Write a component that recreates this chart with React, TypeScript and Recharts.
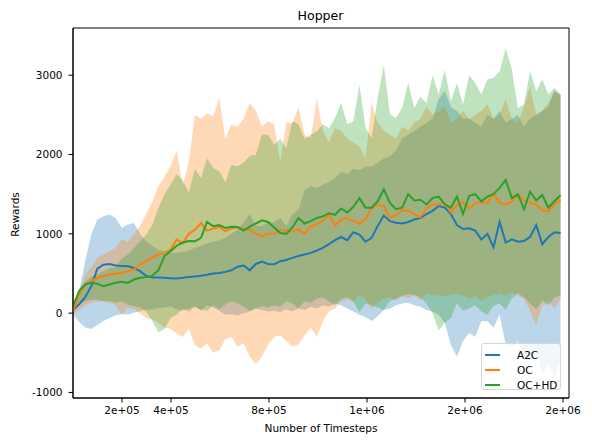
import React from "react";
import { ComposedChart, Area, Line, XAxis, YAxis, ReferenceArea } from "recharts";

// evaluation logged every 24875 steps
const STEP = 24875;
const timesteps = Array.from({ length: 81 }, (_, i) => i * STEP);

const a2cMean = [
  40, 110, 200, 340, 560, 610, 620, 600, 595, 590, 570, 530, 470, 450, 450, 445, 440,
  437, 445, 455, 462, 470, 485, 500, 505, 520, 540, 585, 600, 540, 620, 650, 620,
  615, 655, 670, 697, 720, 739, 760, 790, 823, 870, 920, 960, 920, 1020, 990, 900,
  950, 1100, 1230, 1160, 1140, 1130, 1150, 1180, 1200, 1250, 1290, 1350, 1330, 1250, 1110, 1060,
  1070, 1040, 930, 1000, 830, 1150, 890, 930, 900, 910, 960, 1110, 870, 960, 1020, 1010,
];
const a2cLow = [
  -17, -110, -180, -200, -150, -100, -60, -30, -10, -17, 4, 25, 46, 46, 67, 67, 88,
  50, 30, 60, 80, 40, 100, 70, 30, -20, -10, -30, 0, 20, 60, 40, 20,
  30, 10, 50, 20, 60, 40, 80, 60, 100, 80, 120, 100, 60, 20, -20, -50,
  -100, -40, 40, 60, 100, 120, 130, 100, 80, 40, 20, -20, -120, -400, -550, -350,
  -250, -300, -100, -101, -185, -17, -395, -437, -353, -563, -605, -437, -773, -647, -815, -605,
];
const a2cHigh = [
  46, 277, 655, 991, 1180, 1222, 1243, 1201, 1075, 1117, 1138, 1000, 900, 850, 800, 780, 760,
  760, 770, 790, 820, 850, 880, 900, 920, 950, 1000, 1050, 1150, 1250, 1100, 1100, 1150,
  1150, 1200, 1100, 1250, 1300, 1550, 1600, 1580, 1620, 1650, 1700, 1780, 1750, 1820, 1800, 1850,
  1850, 1900, 1950, 1980, 2050, 2200, 2250, 2300, 2350, 2400, 2450, 2700, 2800, 2600, 2550, 2450,
  2450, 2400, 2350, 2500, 2450, 2550, 2400, 2450, 2500, 2350, 2450, 2500, 2550, 2600, 2800, 2750,
];

const ocMean = [
  25, 235, 361, 403, 445, 466, 487, 496, 508, 529, 550, 613, 655, 697, 739, 760, 800,
  930, 880, 1000, 1050, 1135, 1040, 1065, 1090, 1030, 1070, 1085, 1060, 1050, 1000, 970, 1000,
  1000, 1050, 1040, 1030, 1055, 1000, 1090, 1120, 1170, 1240, 1100, 1180, 1200, 1160, 1130, 1180,
  1330, 1370, 1350, 1200, 1240, 1300, 1290, 1250, 1210, 1320, 1370, 1370, 1390, 1270, 1360, 1400,
  1320, 1380, 1400, 1390, 1510, 1390, 1370, 1410, 1490, 1420, 1390, 1370, 1300, 1280, 1370, 1430,
];
const ocLow = [
  -10, 40, 100, 130, 150, 150, 130, 100, -20, 70, 50, 0, -60, -80, -120, -180, -200,
  -250, -300, -200, -400, -450, -380, -500, -470, -330, -300, -420, -380, -550, -640, -550, -400,
  -300, -280, -350, -420, -400, -280, -180, -300, -100, 20, 60, 150, 170, 140, 230, 180,
  60, 130, 180, 200, 160, 210, 190, 230, 160, 250, 220, 230, 210, 230, 240, 220,
  180, 220, 150, 200, 230, 250, 210, 260, 220, 180, 30, -150, 100, 150, 60, 180,
];
const ocHigh = [
  25, 260, 480, 580, 700, 740, 780, 820, 930, 900, 990, 1100, 1250, 1400, 1600, 1720, 1850,
  2050, 1600, 1900, 2500, 2450, 2520, 2480, 2720, 2200, 2380, 2350, 2450, 2650, 2550, 2350, 2420,
  2380, 1900, 2400, 2400, 2600, 2250, 2200, 2700, 2300, 2150, 2330, 2300, 2200, 2150, 2100, 1950,
  2650, 2400, 2300, 2250, 2200, 2350, 2300, 2400, 2450, 2600, 2500, 2550, 2600, 2400, 2450, 2550,
  2450, 2500, 2550, 2630, 2450, 2500, 2700, 2450, 2400, 2600, 2850, 2500, 2550, 2650, 2800, 2750,
];

const hdMean = [
  88, 277, 361, 382, 370, 340, 361, 382, 395, 382, 424, 445, 454, 470, 540, 720, 780,
  850, 890, 910, 905, 950, 1150, 1095, 1110, 1075, 1090, 1085, 1040, 1090, 1130, 1170, 1150,
  1080, 1010, 1000, 1080, 1200, 1130, 1160, 1200, 1220, 1260, 1240, 1320, 1270, 1340, 1450, 1330,
  1330, 1410, 1560, 1390, 1310, 1330, 1500, 1420, 1430, 1370, 1450, 1470, 1370, 1330, 1470, 1250,
  1480, 1500, 1410, 1470, 1500, 1580, 1680, 1450, 1500, 1310, 1530, 1420, 1490, 1330, 1410, 1490,
];
const hdLow = [
  20, 110, 150, 170, 170, 150, 150, 130, 150, 110, 90, 70, 20, -100, -240, -200, -60,
  -20, 60, 20, 80, 40, 30, 100, 50, 110, 150, 120, 80, 30, 60, 90, 70,
  100, 80, 150, 120, 60, 150, 130, 180, 200, 150, 100, 180, 200, 150, 10, 120,
  100, 70, 40, 150, 180, 220, 240, 230, 200, 120, 0, -220, -120, -60, 120, 30,
  60, 100, 20, -20, 90, 120, 40, 180, 250, 200, 120, 50, 160, 100, 200, 220,
];
const hdHigh = [
  60, 300, 400, 460, 490, 530, 570, 580, 690, 740, 820, 900, 990, 1110, 1320, 1500, 1620,
  1750, 1680, 1520, 1820, 1700, 1950, 1830, 1790, 1650, 1870, 1850, 1900, 1980, 2000, 2250, 2250,
  2120, 2200, 2080, 2420, 2380, 2200, 2250, 2290, 2380, 2330, 2460, 2650, 2380, 2420, 2880, 2330,
  2209, 2713, 3130, 2503, 2461, 2587, 2900, 2587, 2730, 2650, 3000, 2755, 3070, 2671, 2900, 2629,
  3000, 2900, 2755, 2950, 2965, 3049, 3340, 3080, 2587, 2629, 3050, 2800, 2950, 2755, 2839, 2755,
];

const xTicks = [200000, 400000, 800000, 1200000, 1600000, 2000000];
const yTicks = [-1000, 0, 1000, 2000, 3000];
const X_DOMAIN = [0, 2024500];
const Y_DOMAIN = [-1070, 3595];

const SERIES = [
  { key: "a2c", name: "A2C", color: "#1f77b4" },
  { key: "oc", name: "OC", color: "#ff7f0e" },
  { key: "hd", name: "OC+HD", color: "#2ca02c" },
];

const FONT = "'DejaVu Sans', sans-serif";
const FS = 10.5;

const data = timesteps.map((t, i) => ({
  t,
  a2c: a2cMean[i],
  a2cBand: [a2cLow[i], a2cHigh[i]],
  oc: ocMean[i],
  ocBand: [ocLow[i], ocHigh[i]],
  hd: hdMean[i],
  hdBand: [hdLow[i], hdHigh[i]],
}));

// matplotlib-style "%.0e" labels: 2e+05, 1e+06
const sci = (v: number) => v.toExponential(0).replace(/e([+-])(\d)$/, "e$10$2");

const tickStyle = { fill: "#000", fontSize: FS, fontFamily: FONT };

export default function App() {
  return (
    <div
      style={{
        position: "absolute",
        left: 0,
        top: 0,
        width: 592,
        height: 443,
        background: "#fff",
        fontFamily: FONT,
      }}
    >
      <div
        style={{
          position: "absolute",
          left: 0,
          width: 641,
          top: 8,
          textAlign: "center",
          fontSize: 12.6,
          lineHeight: "15px",
          color: "#000",
        }}
      >
        Hopper
      </div>
      <ComposedChart
        width={592}
        height={443}
        data={data}
        margin={{ top: 28, right: 23, bottom: 0, left: 0 }}
      >
        <XAxis
          dataKey="t"
          type="number"
          domain={X_DOMAIN}
          ticks={xTicks}
          tickFormatter={sci}
          allowDataOverflow
          height={45}
          tick={tickStyle}
          tickSize={4.5}
          tickMargin={4.5}
          tickLine={{ stroke: "#000" }}
          axisLine={{ stroke: "#000" }}
          label={{
            content: () => (
              <text x={321} y={431.5} textAnchor="middle" fontSize={FS} fontFamily={FONT} fill="#000">
                Number of Timesteps
              </text>
            ),
          }}
        />
        <YAxis
          type="number"
          domain={Y_DOMAIN}
          ticks={yTicks}
          allowDataOverflow
          width={73}
          tick={tickStyle}
          tickSize={4.5}
          tickMargin={6}
          tickLine={{ stroke: "#000" }}
          axisLine={{ stroke: "#000" }}
          label={{
            content: () => (
              <text
                x={19}
                y={214.5}
                transform="rotate(-90, 19, 214.5)"
                textAnchor="middle"
                fontSize={FS}
                fontFamily={FONT}
                fill="#000"
              >
                Rewards
              </text>
            ),
          }}
        />
        {SERIES.map((s) => (
          <Area
            key={s.key + "Band"}
            dataKey={s.key + "Band"}
            type="linear"
            stroke="none"
            fill={s.color}
            fillOpacity={0.3}
            isAnimationActive={false}
            activeDot={false}
          />
        ))}
        {SERIES.map((s) => (
          <Line
            key={s.key}
            dataKey={s.key}
            type="linear"
            stroke={s.color}
            strokeWidth={2}
            dot={false}
            activeDot={false}
            isAnimationActive={false}
          />
        ))}
        <ReferenceArea
          x1={X_DOMAIN[0]}
          x2={X_DOMAIN[1]}
          y1={Y_DOMAIN[0]}
          y2={Y_DOMAIN[1]}
          fill="none"
          stroke="#000"
          strokeWidth={1}
          ifOverflow="visible"
        />
      </ComposedChart>
      <div
        style={{
          position: "absolute",
          left: 481,
          top: 343,
          width: 80,
          height: 47,
          boxSizing: "border-box",
          border: "1px solid #d6d6d6",
          borderRadius: 3,
          background: "rgba(255,255,255,0.8)",
          padding: "3px 0 0 3px",
        }}
      >
        {SERIES.map((s) => (
          <div
            key={s.key}
            style={{ display: "flex", alignItems: "center", height: 15, fontSize: FS, color: "#000" }}
          >
            <span
              style={{ display: "inline-block", width: 15, height: 2, background: s.color, marginRight: 17 }}
            />
            {s.name}
          </div>
        ))}
      </div>
    </div>
  );
}
